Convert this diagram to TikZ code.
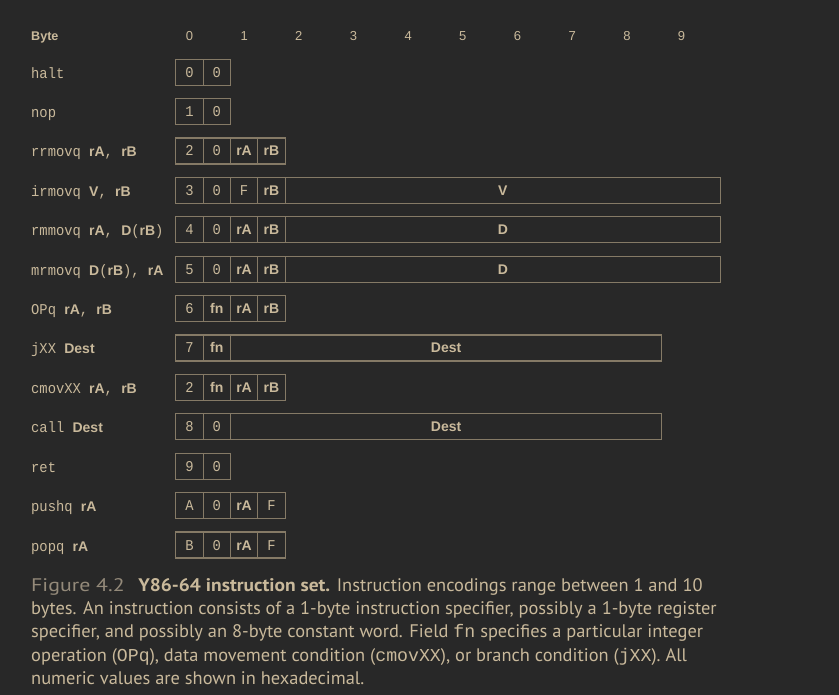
\documentclass[tikz,border=0pt]{standalone}
\usepackage{fontspec}
\setmainfont{Liberation Sans}
\setmonofont{Liberation Mono}[FakeStretch=0.92]
\newfontfamily\capfont{PT Sans}[FakeStretch=1.012]
\newfontfamily\capbold{PT Sans}[FakeStretch=1.07]
\newfontfamily\figfont{PT Sans}[FakeStretch=1.2]
\newfontfamily\capmono{Liberation Mono}
\usetikzlibrary{positioning}
\definecolor{bg}{HTML}{282828}
\definecolor{ink}{HTML}{C9B99B}
\definecolor{boxline}{HTML}{857A66}
\definecolor{dim}{HTML}{948A7A}
\newcommand{\reg}[1]{{\fontsize{14}{16}\selectfont\bfseries #1}}
\newcommand{\mn}[1]{{\fontsize{15}{16}\selectfont\ttfamily #1}}
\tikzset{
  lab/.style={anchor=west, inner sep=0pt, text=ink, text height=10pt, text depth=3pt, yshift=-2.5pt},
  hdr/.style={inner sep=0pt, text=ink, font=\fontsize{13}{15}\selectfont, text height=9.5pt, text depth=0pt},
  nib/.style={draw=boxline, line width=1.1pt, minimum width=27.33pt, minimum height=26pt,
    inner sep=0pt, outer sep=0pt, text=ink, text height=10pt, text depth=0pt},
  wordbox/.style={nib, minimum width=435.7pt},
  destbox/.style={nib, minimum width=431.4pt},
  capline/.style={anchor=base west, inner sep=0pt, text=ink, font=\capfont\fontsize{18.2}{20}\selectfont}
}
\begin{document}
\begin{tikzpicture}[x=1pt,y=-1pt]
\useasboundingbox[fill=bg] (0,0) rectangle (839,695);
% byte numbers
\node[hdr, anchor=west, font=\fontsize{12.6}{15}\selectfont\bfseries] (byte) at (31,36) {Byte};
\foreach \k in {0,...,9}
  \node[hdr] (byte\k) at (189.5+54.67*\k,36) {\k};
% halt / nop
\node[lab] (halt) at (31,72.2) {\mn{halt}};
\node[nib] (halt0) at (189.4,72.2) {\mn{0}};
\node[nib, right=0pt of halt0] (halt1) {\mn{0}};
\node[lab] (nop) at (31,111.6) {\mn{nop}};
\node[nib] (nop0) at (189.4,111.6) {\mn{1}};
\node[nib, right=0pt of nop0] (nop1) {\mn{0}};
% moves
\node[lab] (rrmovq) at (31,151) {\mn{rrmovq }\reg{rA}\mn{, }\reg{rB}};
\node[nib] (rrmovq0) at (189.4,151) {\mn{2}};
\node[nib, right=0pt of rrmovq0] (rrmovq1) {\mn{0}};
\node[nib, right=0pt of rrmovq1] (rrmovq2) {\reg{rA}};
\node[nib, right=0pt of rrmovq2] (rrmovq3) {\reg{rB}};
\node[lab] (irmovq) at (31,190.4) {\mn{irmovq }\reg{V}\mn{, }\reg{rB}};
\node[nib] (irmovq0) at (189.4,190.4) {\mn{3}};
\node[nib, right=0pt of irmovq0] (irmovq1) {\mn{0}};
\node[nib, right=0pt of irmovq1] (irmovq2) {\mn{F}};
\node[nib, right=0pt of irmovq2] (irmovq3) {\reg{rB}};
\node[wordbox, right=0pt of irmovq3] (irmovq4) {\reg{V}};
\node[lab] (rmmovq) at (31,229.8) {\mn{rmmovq }\reg{rA}\mn{, }\reg{D}\mn{(}\reg{rB}\mn{)}};
\node[nib] (rmmovq0) at (189.4,229.8) {\mn{4}};
\node[nib, right=0pt of rmmovq0] (rmmovq1) {\mn{0}};
\node[nib, right=0pt of rmmovq1] (rmmovq2) {\reg{rA}};
\node[nib, right=0pt of rmmovq2] (rmmovq3) {\reg{rB}};
\node[wordbox, right=0pt of rmmovq3] (rmmovq4) {\reg{D}};
\node[lab] (mrmovq) at (31,269.2) {\mn{mrmovq }\reg{D}\mn{(}\reg{rB}\mn{), }\reg{rA}};
\node[nib] (mrmovq0) at (189.4,269.2) {\mn{5}};
\node[nib, right=0pt of mrmovq0] (mrmovq1) {\mn{0}};
\node[nib, right=0pt of mrmovq1] (mrmovq2) {\reg{rA}};
\node[nib, right=0pt of mrmovq2] (mrmovq3) {\reg{rB}};
\node[wordbox, right=0pt of mrmovq3] (mrmovq4) {\reg{D}};
% operations, jumps, conditional moves
\node[lab] (opq) at (31,308.6) {\mn{OPq }\reg{rA}\mn{, }\reg{rB}};
\node[nib] (opq0) at (189.4,308.6) {\mn{6}};
\node[nib, right=0pt of opq0] (opq1) {\reg{fn}};
\node[nib, right=0pt of opq1] (opq2) {\reg{rA}};
\node[nib, right=0pt of opq2] (opq3) {\reg{rB}};
\node[lab] (jxx) at (31,348) {\mn{jXX }\reg{Dest}};
\node[nib] (jxx0) at (189.4,348) {\mn{7}};
\node[nib, right=0pt of jxx0] (jxx1) {\reg{fn}};
\node[destbox, right=0pt of jxx1] (jxx2) {\reg{Dest}};
\node[lab] (cmovxx) at (31,387.4) {\mn{cmovXX }\reg{rA}\mn{, }\reg{rB}};
\node[nib] (cmovxx0) at (189.4,387.4) {\mn{2}};
\node[nib, right=0pt of cmovxx0] (cmovxx1) {\reg{fn}};
\node[nib, right=0pt of cmovxx1] (cmovxx2) {\reg{rA}};
\node[nib, right=0pt of cmovxx2] (cmovxx3) {\reg{rB}};
% call / ret
\node[lab] (call) at (31,426.8) {\mn{call }\reg{Dest}};
\node[nib] (call0) at (189.4,426.8) {\mn{8}};
\node[nib, right=0pt of call0] (call1) {\mn{0}};
\node[destbox, right=0pt of call1] (call2) {\reg{Dest}};
\node[lab] (ret) at (31,466.2) {\mn{ret}};
\node[nib] (ret0) at (189.4,466.2) {\mn{9}};
\node[nib, right=0pt of ret0] (ret1) {\mn{0}};
% stack
\node[lab] (pushq) at (31,505.6) {\mn{pushq }\reg{rA}};
\node[nib] (pushq0) at (189.4,505.6) {\mn{A}};
\node[nib, right=0pt of pushq0] (pushq1) {\mn{0}};
\node[nib, right=0pt of pushq1] (pushq2) {\reg{rA}};
\node[nib, right=0pt of pushq2] (pushq3) {\mn{F}};
\node[lab] (popq) at (31,545) {\mn{popq }\reg{rA}};
\node[nib] (popq0) at (189.4,545) {\mn{B}};
\node[nib, right=0pt of popq0] (popq1) {\mn{0}};
\node[nib, right=0pt of popq1] (popq2) {\reg{rA}};
\node[nib, right=0pt of popq2] (popq3) {\mn{F}};
% caption
\node[capline] (cap1) at (31,591) {{\figfont\color{dim}Figure 4.2}\hspace{0.75em}{\capbold\bfseries Y86-64 instruction set.} Instruction encodings range between 1 and 10};
\node[capline] (cap2) at (31,614.3) {bytes. An instruction consists of a 1-byte instruction specifier, possibly a 1-byte register};
\node[capline] (cap3) at (31,637.6) {specifier, and possibly an 8-byte constant word. Field {\capmono fn} specifies a particular integer};
\node[capline] (cap4) at (31,661) {operation ({\capmono OPq}), data movement condition ({\capmono cmovXX}), or branch condition ({\capmono jXX}). All};
\node[capline] (cap5) at (31,684.3) {numeric values are shown in hexadecimal.};
\end{tikzpicture}
\end{document}
